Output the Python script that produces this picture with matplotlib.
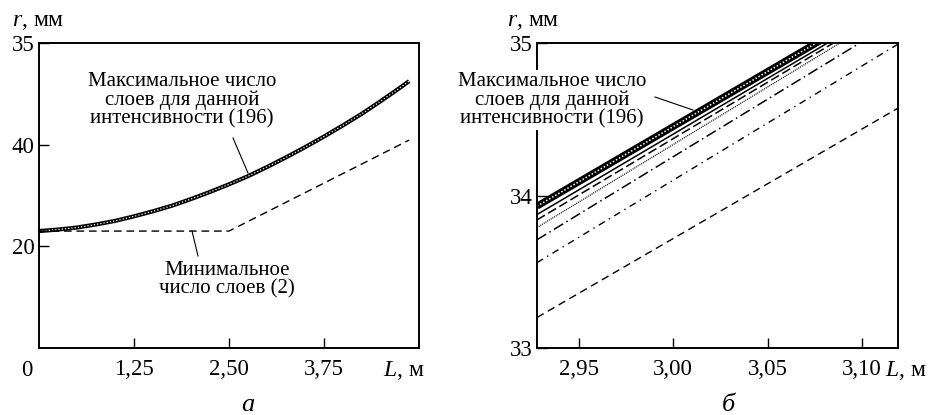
import matplotlib.pyplot as plt

plt.rcParams["font.family"] = ["Liberation Serif", "DejaVu Serif"]
plt.rcParams["mathtext.fontset"] = "custom"
plt.rcParams["mathtext.rm"] = "Liberation Serif"
plt.rcParams["mathtext.it"] = "Liberation Serif:italic"

W, H = 937, 415

# panel a: r(L) over the full length
L_a_max = [0.0, 0.25, 0.5, 0.75, 1.0, 1.25, 1.5, 1.75, 2.0, 2.25, 2.5,
           2.75, 3.0, 3.25, 3.5, 3.75, 4.0, 4.25, 4.5, 4.75, 4.87]
r_a_max = [23.0, 23.3, 23.7, 24.3, 25.0, 25.9, 26.9, 28.0, 29.3, 30.7, 32.2,
           33.8, 35.6, 37.5, 39.5, 41.6, 43.8, 46.1, 48.6, 51.2, 52.5]
L_a_min = [0.0, 2.5, 4.87]
r_a_min = [23.0, 23.0, 40.9]
a_xticks = [1.25, 2.50, 3.75]
a_xticklabels = ["1,25", "2,50", "3,75"]
a_yticks = [20, 40, 60]
a_yticklabels = ["20", "40", "35"]

# panel b: zoom near the end, one pair of values per line (straight segments)
L_b = [2.928, 3.12]
r_b_max = [33.93, 35.32]
r_b_solid = [33.875, 35.28]
r_b_longdash = [33.84, 35.26]
r_b_dotted = [33.79, 35.24]
r_b_dashdot_long = [33.71, 35.16]
r_b_dashdot = [33.56, 35.00]
r_b_min = [33.20, 34.58]
b_xticks = [2.95, 3.00, 3.05, 3.10]
b_xticklabels = ["2,95", "3,00", "3,05", "3,10"]
b_yticks = [33, 34, 35]
b_yticklabels = ["33", "34", "35"]

FS = 15       # annotations
FS_TICK = 16.5
FS_AXIS = 17


def fx(x):
    return x / W


def fy(y):
    return 1 - y / H


def style_axes(ax):
    for s in ax.spines.values():
        s.set_linewidth(1.4)
    ax.tick_params(direction="in", length=7, width=1.0, labelsize=FS_TICK, pad=3)
    ax.tick_params(axis="x", pad=8)


fig = plt.figure(figsize=(W / 100, H / 100), dpi=100)

# ---------- panel a ----------
ax1 = fig.add_axes([fx(39), fy(348), fx(419) - fx(39), fy(43) - fy(348)])
ax1.plot(L_a_max, r_a_max, color="black", lw=3.0, solid_capstyle="butt")
ax1.plot(L_a_max, r_a_max, color="white", lw=0.9, ls=(0, (1, 1.6)))
ax1.plot(L_a_min, r_a_min, color="black", lw=1.0, ls=(0, (5.5, 3.5)))
ax1.set_xlim(0, 5)
ax1.set_ylim(0, 60)
ax1.set_xticks(a_xticks, a_xticklabels)
ax1.set_yticks(a_yticks, a_yticklabels)
style_axes(ax1)

# ---------- panel b ----------
ax2 = fig.add_axes([fx(537), fy(348), fx(898) - fx(537), fy(43) - fy(348)])
ax2.plot(L_b, r_b_max, color="black", lw=5.0, solid_capstyle="butt")
ax2.plot(L_b, r_b_max, color="white", lw=1.1, ls=(0, (1, 1.3)))
ax2.plot(L_b, r_b_solid, color="black", lw=1.1)
ax2.plot(L_b, r_b_longdash, color="black", lw=1.1, ls=(0, (6, 2.5)))
ax2.plot(L_b, r_b_dotted, color="black", lw=0.9, ls=(0, (0.8, 0.8)))
ax2.plot(L_b, r_b_dashdot_long, color="black", lw=1.1, ls=(0, (7, 2.5, 1, 2.5)))
ax2.plot(L_b, r_b_dashdot, color="black", lw=1.0, ls=(0, (5, 3.5, 1, 3.5)))
ax2.plot(L_b, r_b_min, color="black", lw=1.0, ls=(0, (5.5, 3.5)))
ax2.set_xlim(2.928, 3.119)
ax2.set_ylim(33, 35)
ax2.set_xticks(b_xticks, b_xticklabels)
ax2.set_yticks(b_yticks, b_yticklabels)
style_axes(ax2)

# ---------- texts ----------
tf = fig.transFigure
fig.text(fx(12), fy(22), r"$r$, мм", fontsize=FS_AXIS, ha="left", va="center", transform=tf)
fig.text(fx(507), fy(22), r"$r$, мм", fontsize=FS_AXIS, ha="left", va="center", transform=tf)
fig.text(fx(27), fy(370), "0", fontsize=FS_TICK, ha="center", va="center", transform=tf)
fig.text(fx(383), fy(370), r"$L$, м", fontsize=FS_AXIS, ha="left", va="center", transform=tf)
fig.text(fx(885), fy(370), r"$L$, м", fontsize=FS_AXIS, ha="left", va="center", transform=tf)
fig.text(fx(248), fy(405), "а", fontsize=19, style="italic", ha="center", va="center", transform=tf)
fig.text(fx(728), fy(405), "б", fontsize=19, style="italic", ha="center", va="center", transform=tf)

max_label = "Максимальное число\nслоев для данной\nинтенсивности (196)"
fig.text(fx(182), fy(100), max_label, fontsize=FS, ha="center", va="center",
         linespacing=0.95, transform=tf)
fig.text(fx(552), fy(100), max_label, fontsize=FS, ha="center", va="center",
         linespacing=0.95, transform=tf,
         bbox=dict(facecolor="white", edgecolor="none", pad=1))
fig.text(fx(227), fy(280), "Минимальное\nчисло слоев (2)", fontsize=FS, ha="center",
         va="center", linespacing=0.95, transform=tf)

# leader lines
fig.add_artist(plt.Line2D([fx(233), fx(248)], [fy(138), fy(173)], color="black", lw=0.8))
fig.add_artist(plt.Line2D([fx(192), fx(198)], [fy(231), fy(256)], color="black", lw=0.8))
fig.add_artist(plt.Line2D([fx(655), fx(693)], [fy(97), fy(110)], color="black", lw=0.8))

fig.savefig("out.png", dpi=100, facecolor="white")
